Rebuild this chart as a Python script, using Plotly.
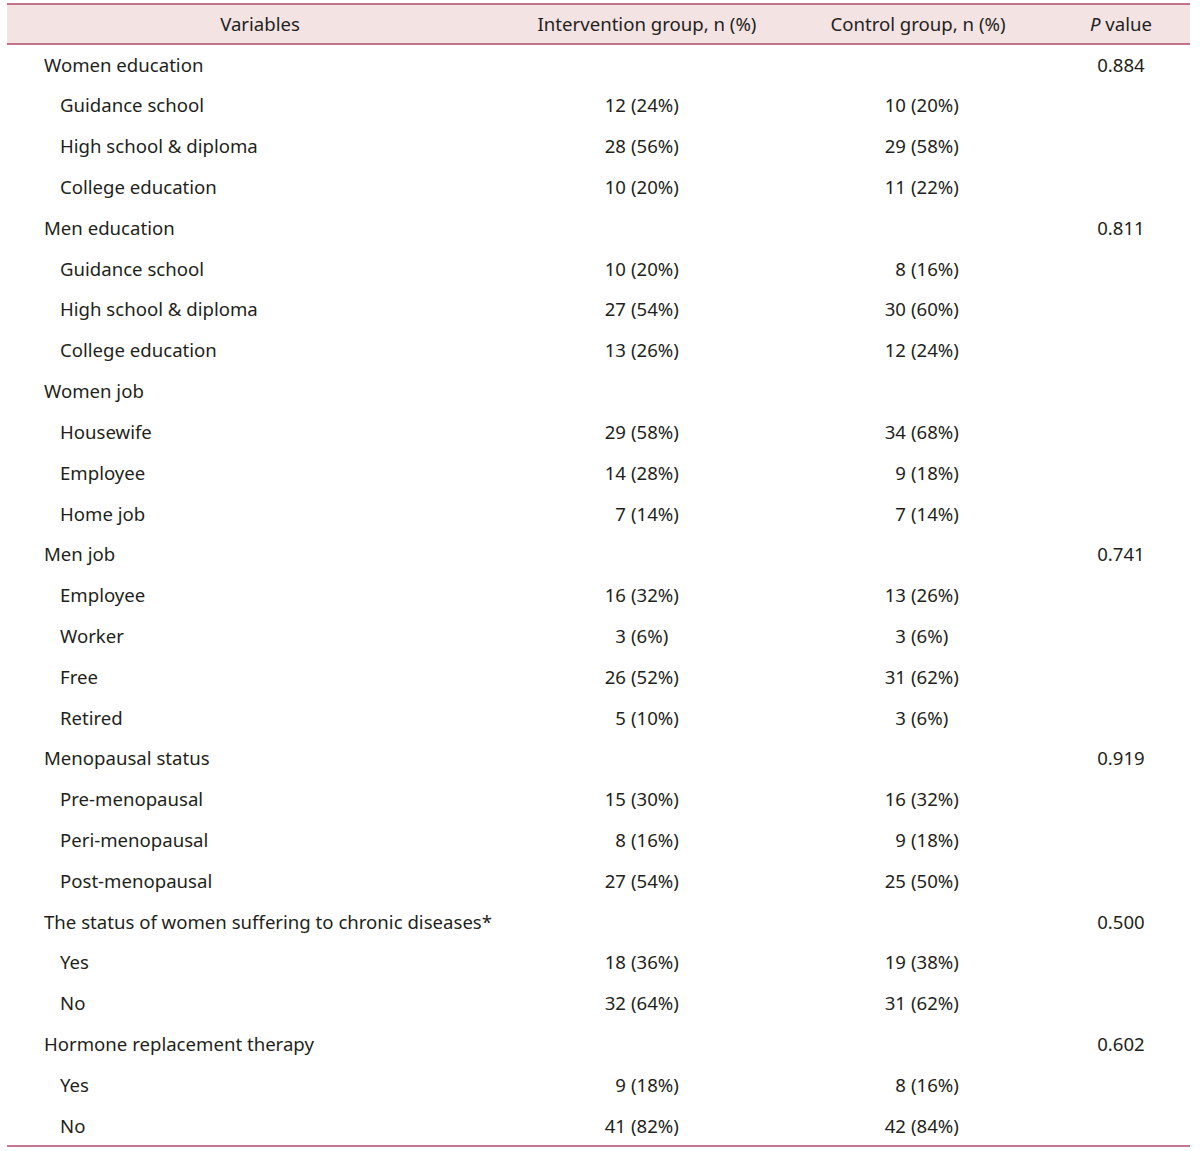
import plotly.graph_objects as go

# ---- data ----
headers = ["Variables", "Intervention group, n (%)", "Control group, n (%)", "<i>P</i> value"]
variables = [
    "Women education", "Guidance school", "High school & diploma", "College education",
    "Men education", "Guidance school", "High school & diploma", "College education",
    "Women job", "Housewife", "Employee", "Home job",
    "Men job", "Employee", "Worker", "Free", "Retired",
    "Menopausal status", "Pre-menopausal", "Peri-menopausal", "Post-menopausal",
    "The status of women suffering to chronic diseases*", "Yes", "No",
    "Hormone replacement therapy", "Yes", "No",
]
is_group = [1, 0, 0, 0, 1, 0, 0, 0, 1, 0, 0, 0, 1, 0, 0, 0, 0, 1, 0, 0, 0, 1, 0, 0, 1, 0, 0]
interv_n = [None, 12, 28, 10, None, 10, 27, 13, None, 29, 14, 7, None, 16, 3, 26, 5,
            None, 15, 8, 27, None, 18, 32, None, 9, 41]
interv_pct = [None, 24, 56, 20, None, 20, 54, 26, None, 58, 28, 14, None, 32, 6, 52, 10,
              None, 30, 16, 54, None, 36, 64, None, 18, 82]
control_n = [None, 10, 29, 11, None, 8, 30, 12, None, 34, 9, 7, None, 13, 3, 31, 3,
             None, 16, 9, 25, None, 19, 31, None, 8, 42]
control_pct = [None, 20, 58, 22, None, 16, 60, 24, None, 68, 18, 14, None, 26, 6, 62, 6,
               None, 32, 18, 50, None, 38, 62, None, 16, 84]
p_values = ["0.884", "", "", "", "0.811", "", "", "", "", "", "", "", "0.741", "", "", "", "",
            "0.919", "", "", "", "0.500", "", "", "0.602", "", ""]

# ---- layout constants ----
FONT = "Noto Sans, Open Sans, sans-serif"
TXT = "#231f20"
LINE = "#b5486a"
FSIZE = 18.6
X_LEFT, X_RIGHT = 7, 1190
X_GROUP, X_SUB = 44, 60
X_INT_PAREN, X_CTL_PAREN = 632, 912
X_P = 1121
X_HEAD = [260, 647, 918, 1121]

ROW0_PX, ROWN_PX = 67, 1128
row_h = (ROWN_PX - ROW0_PX) / 26.0
def px2y(p):
    return (p - ROW0_PX) / row_h

rows = list(range(len(variables)))
fig = go.Figure()

# variable labels
gx = [X_GROUP if g else X_SUB for g in is_group]
fig.add_trace(go.Scatter(x=gx, y=rows, mode="text", text=variables,
                         textposition="middle right", textfont=dict(family=FONT, size=FSIZE, color=TXT),
                         hoverinfo="skip", showlegend=False))

def add_col(ns, pcts, xp):
    idx = [i for i in rows if ns[i] is not None]
    fig.add_trace(go.Scatter(x=[xp - 6] * len(idx), y=idx, mode="text",
                             text=[str(ns[i]) for i in idx], textposition="middle left",
                             textfont=dict(family=FONT, size=FSIZE, color=TXT),
                             hoverinfo="skip", showlegend=False))
    fig.add_trace(go.Scatter(x=[xp - 1] * len(idx), y=idx, mode="text",
                             text=["(%d%%)" % pcts[i] for i in idx], textposition="middle right",
                             textfont=dict(family=FONT, size=FSIZE, color=TXT),
                             hoverinfo="skip", showlegend=False))

add_col(interv_n, interv_pct, X_INT_PAREN)
add_col(control_n, control_pct, X_CTL_PAREN)

pidx = [i for i in rows if p_values[i]]
fig.add_trace(go.Scatter(x=[X_P] * len(pidx), y=pidx, mode="text",
                         text=[p_values[i] for i in pidx], textposition="middle center",
                         textfont=dict(family=FONT, size=FSIZE, color=TXT),
                         hoverinfo="skip", showlegend=False))

# header
fig.add_trace(go.Scatter(x=X_HEAD, y=[px2y(26)] * 4, mode="text", text=headers,
                         textposition="middle center", textfont=dict(family=FONT, size=FSIZE, color=TXT),
                         hoverinfo="skip", showlegend=False))

fig.add_shape(type="rect", x0=X_LEFT, x1=X_RIGHT, y0=px2y(4), y1=px2y(44),
              fillcolor="#f3e3e3", line=dict(width=0), layer="below")
for p in [4, 44, 1146]:
    fig.add_shape(type="line", x0=X_LEFT, x1=X_RIGHT, y0=px2y(p), y1=px2y(p),
                  line=dict(color=LINE, width=1.6))

fig.update_layout(
    width=1200, height=1151, margin=dict(l=0, r=0, t=0, b=0),
    paper_bgcolor="white", plot_bgcolor="white",
    xaxis=dict(range=[0, 1200], visible=False, fixedrange=True),
    yaxis=dict(range=[px2y(1151), px2y(0)], visible=False, fixedrange=True),
)
fig.write_html("out.html", config={"displayModeBar": False},
               post_script="document.body.style.margin='0';document.body.style.overflow='hidden';")
